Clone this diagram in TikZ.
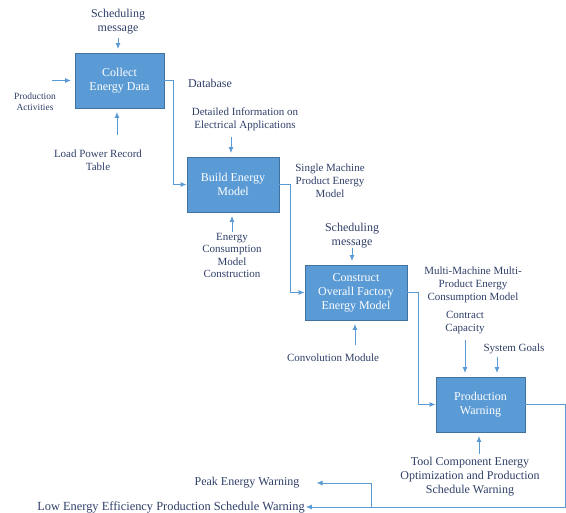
\documentclass[tikz,border=0pt]{standalone}
\usepackage{fontspec}
\setmainfont{Liberation Serif}
\usetikzlibrary{arrows.meta}

\begin{document}
\begin{tikzpicture}[x=1pt,y=-1pt]
\definecolor{stageFill}{HTML}{5B9BD5}
\definecolor{stageBorder}{HTML}{41719C}
\definecolor{flowLine}{HTML}{5B9BD5}
\definecolor{noteText}{HTML}{2F3F68}
\tikzset{
  stagebox/.style={draw=stageBorder,fill=stageFill,line width=0.8pt,text=white,
    align=center,minimum height=55pt,inner sep=2pt,font=\fontsize{12}{14}\selectfont},
  notetext/.style={text=noteText,align=center,inner sep=1pt,font=\fontsize{11}{13}\selectfont},
  bignote/.style={notetext,font=\fontsize{12}{14}\selectfont},
  flow/.style={draw=flowLine,line width=1pt,-{Latex[length=6pt,width=5pt]}},
  inflow/.style={flow,shorten >=3.5pt},
}
\useasboundingbox (0,0) rectangle (566,513);
% process stages
\node[stagebox,minimum width=89pt] (collect) at (119.5,80.5) {Collect\\Energy Data};
\node[stagebox,minimum width=92pt] (build) at (233,184.5) {Build Energy\\Model};
\node[stagebox,minimum width=102pt] (construct) at (356,292.5) {Construct\\Overall Factory\\Energy Model};
\node[stagebox,minimum width=89pt] (warn) at (480.5,404.5) {Production\\Warning};
% side notes
\node[bignote] (sched1) at (118,22) {Scheduling\\message};
\node[notetext,font=\fontsize{9.5}{10.5}\selectfont] (act) at (35,102) {Production\\Activities};
\node[notetext] (load) at (98,160) {Load Power Record\\Table};
\node[bignote] (db) at (210,83) {Database};
\node[notetext] (detail) at (245,119.5) {Detailed Information on\\Electrical Applications};
\node[notetext,font=\fontsize{11}{12.4}\selectfont] (energy) at (232,255.5) {Energy\\Consumption\\Model\\Construction};
\node[notetext] (single) at (330,181) {Single Machine\\Product Energy\\Model};
\node[bignote] (sched2) at (352,235.5) {Scheduling\\message};
\node[notetext] (multi) at (473,285) {Multi-Machine Multi-\\Product Energy\\Consumption Model};
\node[notetext] (contract) at (465,323) {Contract\\Capacity};
\node[notetext] (goals) at (514,349) {System Goals};
\node[notetext] (conv) at (333,358) {Convolution Module};
\node[bignote] (tool) at (470,477) {Tool Component Energy\\Optimization and Production\\Schedule Warning};
\node[bignote] (peak) at (247,483) {Peak Energy Warning};
\node[bignote,font=\fontsize{12.4}{14}\selectfont] (low) at (171,507) {Low Energy Efficiency Production Schedule Warning};
% main flow
\draw[flow] (collect.east) -- ++(9,0) |- (build.west);
\draw[flow] (build.east) -- ++(11,0) |- (construct.west);
\draw[flow] (construct.east) -- ++(11,0) |- (warn.west);
\coordinate (turn) at (565,507);
\coordinate (split) at (371,507);
\draw[flow,line width=0.7pt] (warn.east) -| (turn) -- (low.east);
\draw[flow,line width=0.7pt,shorten >=16pt] (split) |- (peak.east);
% inputs
\coordinate (schedsrc) at (118,38);
\coordinate (actsrc) at (52,80.5);
\coordinate (loadsrc) at (117,135);
\coordinate (detailsrc) at (231,137);
\coordinate (energysrc) at (232,232);
\coordinate (sched2src) at (352,248);
\coordinate (convsrc) at (355,345);
\coordinate (contractsrc) at (465,340);
\coordinate (goalssrc) at (497,357);
\coordinate (toolsrc) at (479,454);
\draw[inflow] (schedsrc) -- (schedsrc |- collect.north);
\draw[inflow] (actsrc) -- (actsrc -| collect.west);
\draw[inflow] (loadsrc) -- (loadsrc |- collect.south);
\draw[inflow] (detailsrc) -- (detailsrc |- build.north);
\draw[inflow] (energysrc) -- (energysrc |- build.south);
\draw[inflow] (sched2src) -- (sched2src |- construct.north);
\draw[inflow] (convsrc) -- (convsrc |- construct.south);
\draw[inflow] (contractsrc) -- (contractsrc |- warn.north);
\draw[inflow] (goalssrc) -- (goalssrc |- warn.north);
\draw[inflow] (toolsrc) -- (toolsrc |- warn.south);
\end{tikzpicture}
\end{document}
